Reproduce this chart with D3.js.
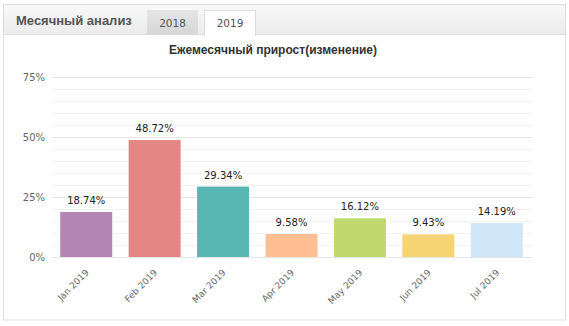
<!DOCTYPE html>
<html><head><meta charset="utf-8">
<script src="https://cdn.jsdelivr.net/npm/d3@7"></script>
<style>html,body{margin:0;padding:0;background:#fff;}svg{display:block;}</style>
</head><body>
<svg id="c" width="569" height="326"></svg>
<script>
const categories = ["Jan 2019","Feb 2019","Mar 2019","Apr 2019","May 2019","Jun 2019","Jul 2019"];
const values = [18.74, 48.72, 29.34, 9.58, 16.12, 9.43, 14.19];
const colors = ["#b585b5","#e38684","#58b7b2","#ffbf93","#bfd96e","#f7d473","#cfe6f8"];
const yTicks = [0, 25, 50, 75];
const minorTicks = [5,10,15,20,30,35,40,45,55,60,65,70];
const tabs = ["2018","2019"];
const panelTitle = "Месячный анализ";
const chartTitle = "Ежемесячный прирост(изменение)";

const svg = d3.select("#c");
const defs = svg.append("defs");
const g1 = defs.append("linearGradient").attr("id","bar").attr("x1",0).attr("y1",0).attr("x2",0).attr("y2",1);
g1.append("stop").attr("offset","0").attr("stop-color","#f9f9f9");
g1.append("stop").attr("offset","1").attr("stop-color","#ebebeb");
const g2 = defs.append("linearGradient").attr("id","tab").attr("x1",0).attr("y1",0).attr("x2",0).attr("y2",1);
g2.append("stop").attr("offset","0").attr("stop-color","#e6e6e6");
g2.append("stop").attr("offset","1").attr("stop-color","#d6d6d6");

// panel frame
svg.append("rect").attr("x",3.5).attr("y",4.5).attr("width",562).attr("height",315.5)
  .attr("fill","#fff").attr("stroke","#e2e2e2");
svg.append("rect").attr("x",3.5).attr("y",4.5).attr("width",562).attr("height",30)
  .attr("fill","url(#bar)").attr("stroke","#dcdcdc");
svg.append("text").attr("x",16).attr("y",25).text(panelTitle)
  .attr("font-family","Liberation Sans, Arial, sans-serif").attr("font-weight","bold")
  .attr("font-size",13).attr("fill","#555");
// tabs
svg.append("rect").attr("x",147).attr("y",10).attr("width",51).attr("height",24.5).attr("fill","url(#tab)");
svg.append("rect").attr("x",204.5).attr("y",10.5).attr("width",51).attr("height",25).attr("fill","#fff").attr("stroke","#dcdcdc");
svg.append("rect").attr("x",205).attr("y",33).attr("width",50).attr("height",3).attr("fill","#fff");
tabs.forEach((t,i)=>{
  svg.append("text").attr("x", i===0?172.5:230).attr("y",27).attr("text-anchor","middle").text(t)
    .attr("font-family","DejaVu Sans, Verdana, sans-serif").attr("font-size",10.5).attr("fill","#555");
});

svg.append("text").attr("x",273).attr("y",54).attr("text-anchor","middle").text(chartTitle)
  .attr("font-family","Liberation Sans, Arial, sans-serif").attr("font-weight","bold")
  .attr("font-size",12).attr("fill","#333");

const x = d3.scaleBand().domain(categories).range([52,531]).paddingInner(0.24).paddingOuter(0.12);
const y = d3.scaleLinear().domain([0,75]).range([257,77]);

// grid
svg.append("g").selectAll("line").data(minorTicks).join("line")
  .attr("x1",52).attr("x2",533).attr("y1",d=>Math.round(y(d))+0.5).attr("y2",d=>Math.round(y(d))+0.5)
  .attr("stroke","#f3f3f3");
svg.append("g").selectAll("line").data(yTicks).join("line")
  .attr("x1",52).attr("x2",533).attr("y1",d=>Math.round(y(d))+0.5).attr("y2",d=>Math.round(y(d))+0.5)
  .attr("stroke","#e6e6e6");

const yAxis = svg.append("g").attr("transform","translate(47,0)")
  .call(d3.axisLeft(y).tickValues(yTicks).tickFormat(d=>d+"%").tickSize(0).tickPadding(2));
yAxis.select(".domain").remove();
yAxis.selectAll("text").attr("font-family","DejaVu Sans, Verdana, sans-serif").attr("font-size",10).attr("fill","#666");

// bars
svg.append("g").selectAll("rect").data(values).join("rect")
  .attr("x",(d,i)=>x(categories[i])).attr("width",x.bandwidth())
  .attr("y",d=>y(d)).attr("height",d=>y(0)-y(d)).attr("fill",(d,i)=>colors[i]);

svg.append("g").selectAll("text").data(values).join("text")
  .attr("x",(d,i)=>x(categories[i])+x.bandwidth()/2).attr("y",d=>y(d)-8)
  .attr("text-anchor","middle").text(d=>d.toFixed(2)+"%")
  .attr("font-family","DejaVu Sans, Verdana, sans-serif").attr("font-size",10).attr("fill","#222");

const xAxis = svg.append("g").attr("transform","translate(0,262)")
  .call(d3.axisBottom(x).tickSize(0).tickPadding(0));
xAxis.select(".domain").remove();
xAxis.selectAll("text")
  .attr("font-family","DejaVu Sans, Verdana, sans-serif").attr("font-size",9).attr("fill","#666")
  .attr("text-anchor","end").attr("y",0).attr("dy","0.35em")
  .attr("transform","translate(1,9) rotate(-45)");
</script>
</body></html>
